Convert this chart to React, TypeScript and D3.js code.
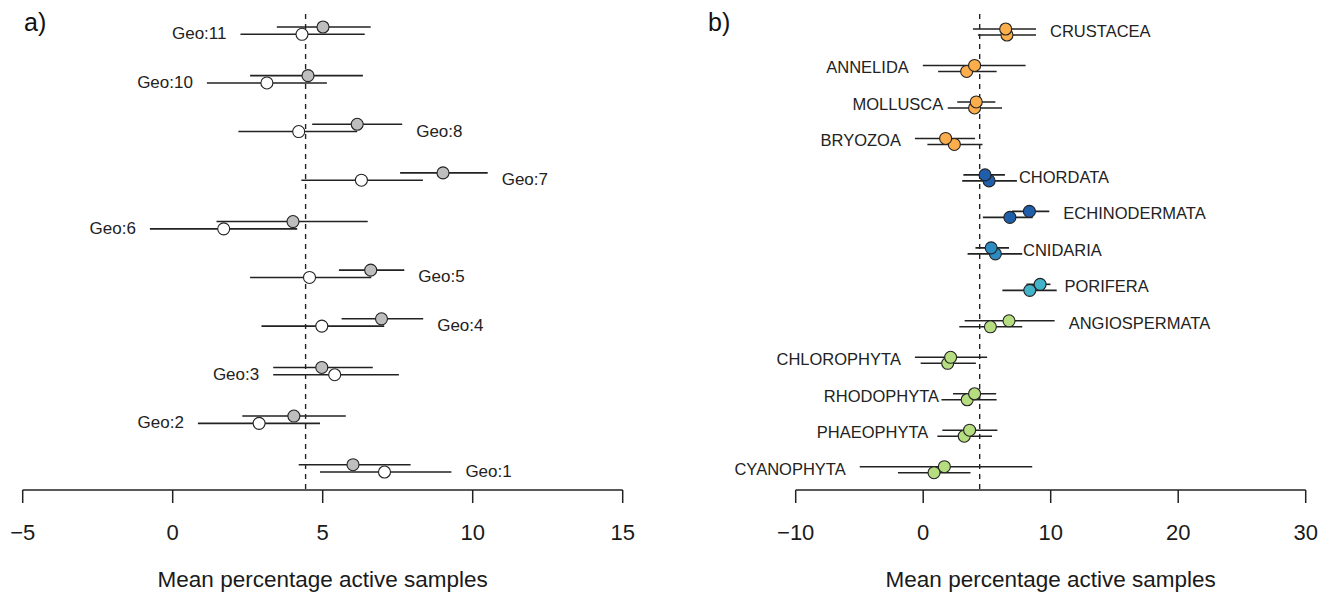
import React from 'react';
import * as d3 from 'd3';

// panel a: geographic regions, two estimates per region (grey above, white below)
const geoCats = ['Geo:11', 'Geo:10', 'Geo:8', 'Geo:7', 'Geo:6', 'Geo:5', 'Geo:4', 'Geo:3', 'Geo:2', 'Geo:1'];
const geoGreyMean = [5.01, 4.51, 6.15, 9.01, 4.01, 6.6, 6.96, 4.97, 4.04, 6.01];
const geoGreyLo = [3.47, 2.58, 4.65, 7.58, 1.46, 5.54, 5.63, 3.35, 2.32, 4.2];
const geoGreyHi = [6.6, 6.34, 7.65, 10.5, 6.5, 7.72, 8.35, 6.67, 5.77, 7.93];
const geoWhiteMean = [4.31, 3.14, 4.2, 6.29, 1.7, 4.56, 4.97, 5.4, 2.88, 7.06];
const geoWhiteLo = [2.26, 1.14, 2.19, 4.29, -0.76, 2.58, 2.96, 3.35, 0.84, 4.91];
const geoWhiteHi = [6.4, 5.14, 6.15, 8.34, 4.15, 6.62, 7.05, 7.54, 4.91, 9.29];
const geoSide = ['left', 'left', 'right', 'right', 'left', 'right', 'right', 'left', 'left', 'right'];

// panel b: phyla, two estimates per phylum (upper and lower)
const phyla = ['CRUSTACEA', 'ANNELIDA', 'MOLLUSCA', 'BRYOZOA', 'CHORDATA', 'ECHINODERMATA', 'CNIDARIA',
  'PORIFERA', 'ANGIOSPERMATA', 'CHLOROPHYTA', 'RHODOPHYTA', 'PHAEOPHYTA', 'CYANOPHYTA'];
const phylaColor = ['#FBAE4B', '#FBAE4B', '#FBAE4B', '#FBAE4B', '#1F5EAB', '#1F5EAB', '#2C8BC1',
  '#43B3C9', '#B6DE80', '#B6DE80', '#B6DE80', '#B6DE80', '#B6DE80'];
const upMean = [6.47, 4.03, 4.16, 1.76, 4.85, 8.33, 5.33, 9.17, 6.73, 2.15, 4.03, 3.64, 1.66];
const upLo = [3.9, -0.03, 2.67, -0.65, 3.15, 6.96, 4.1, 8.1, 3.25, -0.65, 2.34, 1.5, -4.98];
const upHi = [8.85, 8.03, 5.66, 4.07, 6.41, 9.89, 6.73, 9.98, 10.31, 5.01, 5.72, 5.82, 8.55];
const lowMean = [6.57, 3.41, 4.03, 2.44, 5.17, 6.8, 5.66, 8.36, 5.27, 1.92, 3.45, 3.22, 0.85];
const lowLo = [4.29, 1.17, 1.92, 0.33, 3.06, 4.68, 3.48, 6.21, 2.83, -0.2, 1.43, 1.11, -1.98];
const lowHi = [8.85, 5.76, 6.18, 4.65, 7.35, 8.59, 7.77, 10.47, 7.77, 4.13, 5.76, 5.4, 3.71];
const phylaSide = ['right', 'left', 'left', 'left', 'right', 'right', 'right', 'right', 'right',
  'left', 'left', 'left', 'left'];

const overallMean = 4.43;
const aTicks = [-5, 0, 5, 10, 15];
const bTicks = [-10, 0, 10, 20, 30];

const FONT = '"Liberation Sans", Arial, Helvetica, sans-serif';

function Axis({ x, ticks, y }) {
  const r = x.range();
  const fmt = d3.format('d');
  return (
    <g>
      <line x1={r[0]} x2={r[1]} y1={y} y2={y} stroke="#222" strokeWidth={1.5} />
      {ticks.map((t) => (
        <g key={t}>
          <line x1={x(t)} x2={x(t)} y1={y} y2={y + 13} stroke="#222" strokeWidth={1.5} />
          <text x={x(t)} y={y + 50} textAnchor="middle" fontSize={22} fill="#1a1a1a">{fmt(t)}</text>
        </g>
      ))}
      <text x={(r[0] + r[1]) / 2} y={y + 97} textAnchor="middle" fontSize={22.5} fill="#1a1a1a">
        Mean percentage active samples
      </text>
    </g>
  );
}

export default function App() {
  const axisY = 490;
  const xa = d3.scaleLinear().domain([-5, 15]).range([22.7, 622.7]);
  const xb = d3.scaleLinear().domain([-10, 30]).range([795.7, 1305.7]);
  const ya = d3.scalePoint().domain(geoCats).range([34.3, 472]);
  const yb = d3.scalePoint().domain(phyla).range([29, 466.7]);
  const gap = 14;

  return (
    <svg width={1330} height={598} style={{ position: 'absolute', left: 0, top: 0, fontFamily: FONT }}>
      <rect width={1330} height={598} fill="#fff" />

      {/* panel a */}
      <text x={24} y={31} fontSize={25} fill="#111">a)</text>
      <line x1={xa(overallMean)} x2={xa(overallMean)} y1={14} y2={axisY} stroke="#222"
        strokeWidth={1.4} strokeDasharray="5,5" />
      {geoCats.map((c, i) => {
        const yw = ya(c);
        const yg = yw - 7.3;
        const lo = Math.min(geoGreyLo[i], geoWhiteLo[i]);
        const hi = Math.max(geoGreyHi[i], geoWhiteHi[i]);
        const left = geoSide[i] === 'left';
        return (
          <g key={c}>
            <line x1={xa(geoGreyLo[i])} x2={xa(geoGreyHi[i])} y1={yg} y2={yg} stroke="#222" strokeWidth={1.6} />
            <line x1={xa(geoWhiteLo[i])} x2={xa(geoWhiteHi[i])} y1={yw} y2={yw} stroke="#222" strokeWidth={1.6} />
            <circle cx={xa(geoGreyMean[i])} cy={yg} r={6} fill="#BEBEBE" stroke="#222" strokeWidth={1.1} />
            <circle cx={xa(geoWhiteMean[i])} cy={yw} r={6} fill="#fff" stroke="#222" strokeWidth={1.1} />
            <text x={left ? xa(lo) - gap : xa(hi) + gap} y={yw + 5} fontSize={17} fill="#222"
              textAnchor={left ? 'end' : 'start'}>{c}</text>
          </g>
        );
      })}
      <Axis x={xa} ticks={aTicks} y={axisY} />

      {/* panel b */}
      <text x={708} y={31} fontSize={25} fill="#111">b)</text>
      <line x1={xb(overallMean)} x2={xb(overallMean)} y1={14} y2={axisY} stroke="#222"
        strokeWidth={1.4} strokeDasharray="5,5" />
      {phyla.map((p, i) => {
        const yu = yb(p);
        const yl = yu + 6;
        const left = phylaSide[i] === 'left';
        return (
          <g key={p}>
            <line x1={xb(upLo[i])} x2={xb(upHi[i])} y1={yu} y2={yu} stroke="#222" strokeWidth={1.6} />
            <line x1={xb(lowLo[i])} x2={xb(lowHi[i])} y1={yl} y2={yl} stroke="#222" strokeWidth={1.6} />
            <circle cx={xb(lowMean[i])} cy={yl} r={6} fill={phylaColor[i]} stroke="#222" strokeWidth={1.1} />
            <circle cx={xb(upMean[i])} cy={yu} r={6} fill={phylaColor[i]} stroke="#222" strokeWidth={1.1} />
            <text x={left ? xb(upLo[i]) - gap : xb(upHi[i]) + gap} y={yu + 8} fontSize={16.5} fill="#222"
              textAnchor={left ? 'end' : 'start'}>{p}</text>
          </g>
        );
      })}
      <Axis x={xb} ticks={bTicks} y={axisY} />
    </svg>
  );
}
